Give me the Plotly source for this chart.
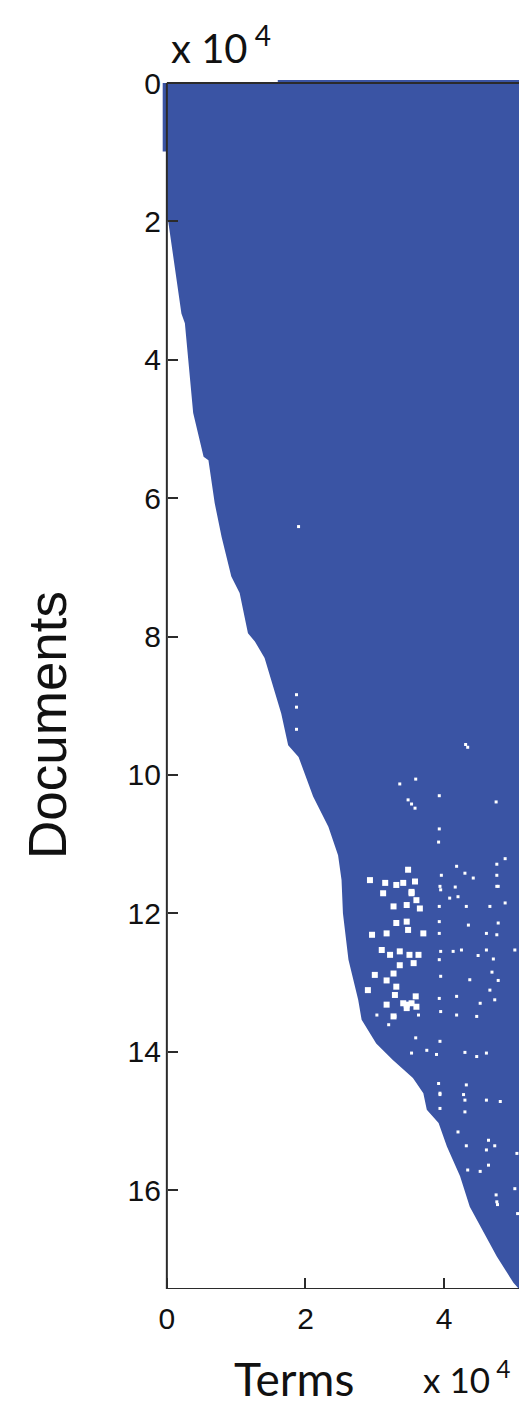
import plotly.graph_objects as go

# ---------------- data (units of 10^4) ----------------
# left boundary of the filled (non-zero) region: documents (row) vs first term (column)
boundary_docs = [2.00, 2.51, 3.33, 3.47, 3.99, 4.77, 5.40, 5.45, 6.07, 6.56, 7.13, 7.37, 7.95, 8.07,
                 8.31, 8.72, 9.11, 9.57, 9.74, 10.31, 10.75, 11.16, 11.52, 12.00, 12.67, 13.25,
                 13.54, 13.88, 14.12, 14.38, 14.60, 14.84, 15.03, 15.37, 15.80, 16.24, 16.62,
                 16.96, 17.34, 17.43]
boundary_terms = [0.02, 0.09, 0.21, 0.26, 0.31, 0.38, 0.53, 0.60, 0.69, 0.79, 0.93, 1.05, 1.17, 1.27,
                  1.41, 1.53, 1.65, 1.75, 1.90, 2.11, 2.33, 2.47, 2.52, 2.54, 2.62, 2.76,
                  2.81, 3.02, 3.26, 3.55, 3.70, 3.75, 3.92, 4.04, 4.23, 4.37, 4.57,
                  4.76, 5.00, 5.07]
n_docs = 17.43
n_terms_visible = 5.08
first_col_dense_end = 0.99    # rows where column 0 is filled
top_row_dense_start = 1.60    # columns where row 0 is filled

# empty cells (holes) inside the filled region: small isolated ones
small_hole_terms = [1.90, 1.87, 1.87, 1.87, 4.31, 4.34, 3.59, 3.36, 3.48, 3.53, 3.58, 3.93, 4.75, 3.93,
                    3.92, 4.88, 4.76, 4.18, 3.96, 3.94, 4.30, 4.42, 4.76, 4.78, 4.16,
                    3.95, 3.93, 3.93, 3.93, 3.95, 3.93, 3.95, 3.93, 3.95,
                    4.13, 4.25, 4.35, 4.37, 4.18, 4.08, 4.32, 4.20,
                    4.76, 4.88, 4.66, 4.78, 4.61, 4.76, 4.61, 5.02, 4.71, 4.69, 4.78, 4.66, 4.73,
                    4.52, 4.49,
                    3.03, 3.29, 3.63, 3.20, 3.59, 3.94, 3.53, 3.75, 3.89, 4.30, 4.47, 4.61, 4.18,
                    4.47, 3.92, 3.94, 4.28, 4.30, 4.61, 4.81, 3.94, 4.30,
                    4.20, 4.32, 4.73, 4.64, 4.61, 4.64, 4.34, 4.52, 4.75, 4.76, 4.77, 5.05, 5.02,
                    5.06, 4.32, 3.94]
small_hole_docs = [6.41, 8.84, 9.02, 9.34, 9.56, 9.60, 10.06, 10.13, 10.36, 10.42, 10.48, 10.30, 10.39, 10.78,
                   10.97, 11.21, 11.29, 11.32, 11.45, 11.61, 11.42, 11.49, 11.45, 11.61, 11.62,
                   11.66, 11.90, 12.12, 12.29, 12.55, 12.67, 12.91, 13.23, 13.42,
                   12.55, 12.53, 12.17, 12.96, 13.20, 11.78, 11.90, 11.76,
                   11.61, 11.85, 11.90, 12.14, 12.29, 12.31, 12.53, 12.53, 12.66, 12.85, 12.97, 13.11, 13.25,
                   13.30, 12.61,
                   13.47, 13.49, 13.47, 13.61, 13.80, 13.85, 14.02, 13.98, 14.04, 14.01, 14.07, 14.02, 13.47,
                   13.49, 14.46, 14.62, 14.62, 14.70, 14.70, 14.72, 14.82, 14.87,
                   15.16, 15.36, 15.36, 15.28, 15.42, 15.64, 15.71, 15.73, 16.07, 16.17, 16.21, 15.47, 15.98,
                   16.34, 14.48, 14.60]

# larger clusters of empty cells
big_hole_terms = [3.48, 3.58, 3.41, 3.53,
                  3.15, 3.12, 3.31, 3.53, 3.60, 3.65, 3.46, 3.27, 3.31, 3.46, 3.48, 3.10, 3.22, 3.36,
                  3.50, 3.63, 3.56, 3.36, 3.27, 3.17, 3.31, 3.29, 3.41, 3.53, 3.46, 3.59, 3.60, 3.17,
                  3.27, 3.70, 3.17, 2.93, 2.96, 3.00, 2.90, 3.46]
big_hole_docs = [11.37, 11.54, 11.56, 11.69,
                 11.56, 11.71, 11.59, 11.71, 11.81, 11.93, 11.88, 11.90, 12.14, 12.12, 12.24, 12.53, 12.60, 12.55,
                 12.60, 12.60, 12.72, 12.75, 12.87, 12.97, 13.06, 13.18, 13.30, 13.30, 13.37, 13.20, 13.35, 13.32,
                 13.49, 12.29, 12.29, 11.52, 12.31, 12.89, 13.11, 13.32]

x_ticks = [0, 2, 4]
y_ticks = [0, 2, 4, 6, 8, 10, 12, 14, 16]

# ---------------- style ----------------
BLUE = "rgb(58,84,164)"
AX = "#2b2b2b"
overflow = 0.05   # marker overflow of the spy plot beyond the frame

W, H = 519, 1406
ml, mr, mt, mb = 162, 0, 80, 117
x_lo = -0.07
y_top = -0.045
plot_w = W - ml - mr
plot_h = H - mt - mb


def px_x(p):
    return (p - ml) / plot_w


def px_y(p):
    return (H - mb - p) / plot_h


# polygon of the filled region
poly_x = [x_lo + 0.01, x_lo + 0.01, 0.0] + [0.0] + boundary_terms + [n_terms_visible, n_terms_visible,
          top_row_dense_start, top_row_dense_start, x_lo + 0.01]
poly_y = [0.0, first_col_dense_end, first_col_dense_end] + [boundary_docs[0]] + boundary_docs + [n_docs, -overflow,
          -overflow, 0.0, 0.0]

fig = go.Figure()
fig.add_trace(go.Scatter(x=poly_x, y=poly_y, mode="lines", fill="toself", fillcolor=BLUE,
                         line=dict(color=BLUE, width=0), hoverinfo="skip", showlegend=False))
fig.add_trace(go.Scatter(x=small_hole_terms, y=small_hole_docs, mode="markers",
                         marker=dict(symbol="square", size=3, color="white", line=dict(width=0)),
                         hoverinfo="skip", showlegend=False))
fig.add_trace(go.Scatter(x=big_hole_terms, y=big_hole_docs, mode="markers",
                         marker=dict(symbol="square", size=6, color="white", line=dict(width=0)),
                         hoverinfo="skip", showlegend=False))

# frame
fig.add_shape(type="line", x0=0, x1=0, y0=0, y1=n_docs, line=dict(color=AX, width=2), layer="above")
fig.add_shape(type="line", x0=0, x1=n_terms_visible, y0=n_docs, y1=n_docs, line=dict(color=AX, width=2), layer="above")
fig.add_shape(type="line", x0=0, x1=n_terms_visible, y0=0, y1=0, line=dict(color=AX, width=2), layer="above")

tickfont = dict(family="Liberation Sans, Arial, sans-serif", size=30, color="#111")
pos = (0 - x_lo) / (n_terms_visible - x_lo)

fig.update_layout(
    width=W, height=H, margin=dict(l=ml, r=mr, t=mt, b=mb),
    paper_bgcolor="white", plot_bgcolor="white",
    xaxis=dict(range=[x_lo, n_terms_visible], tickvals=x_ticks, ticktext=[str(v) for v in x_ticks],
               ticks="inside", ticklen=11, tickwidth=1.5, tickcolor=AX, showline=False,
               showgrid=False, zeroline=False, tickfont=tickfont, ticklabelstandoff=9, anchor="y"),
    yaxis=dict(range=[n_docs, y_top], tickvals=y_ticks, ticktext=[str(v) for v in y_ticks],
               ticks="inside", ticklen=10, tickwidth=1.5, tickcolor=AX, showline=False,
               showgrid=False, zeroline=False, tickfont=tickfont, ticklabelstandoff=6,
               anchor="free", position=pos),
    font=dict(family="Liberation Sans, Arial, sans-serif", color="#111"),
)

gill = "Lato, 'Open Sans', sans-serif"
fig.add_annotation(x=px_x(169), y=px_y(45), xref="paper", yref="paper", text="x 10<sup> 4</sup>",
                   showarrow=False, xanchor="left", yanchor="middle",
                   font=dict(family=gill, size=40, color="#111"))
fig.add_annotation(x=px_x(294), y=px_y(1406), xref="paper", yref="paper", text="Terms", showarrow=False,
                   xanchor="center", yanchor="bottom", yshift=-1, borderpad=0,
                   font=dict(family=gill, size=46, color="#111"))
fig.add_annotation(x=px_x(421), y=px_y(1377), xref="paper", yref="paper", text="x 10<sup> 4</sup>",
                   showarrow=False, xanchor="left", yanchor="middle",
                   font=dict(family=gill, size=35, color="#111"))
fig.add_annotation(x=px_x(47), y=px_y(725), xref="paper", yref="paper", text="Documents", showarrow=False,
                   textangle=-90, xanchor="center", yanchor="middle",
                   font=dict(family="Liberation Sans, Arial, sans-serif", size=53, color="#111"))

fig.write_html("out.html", config={"displayModeBar": False},
               post_script="document.body.style.margin='0';document.body.style.overflow='hidden';")
